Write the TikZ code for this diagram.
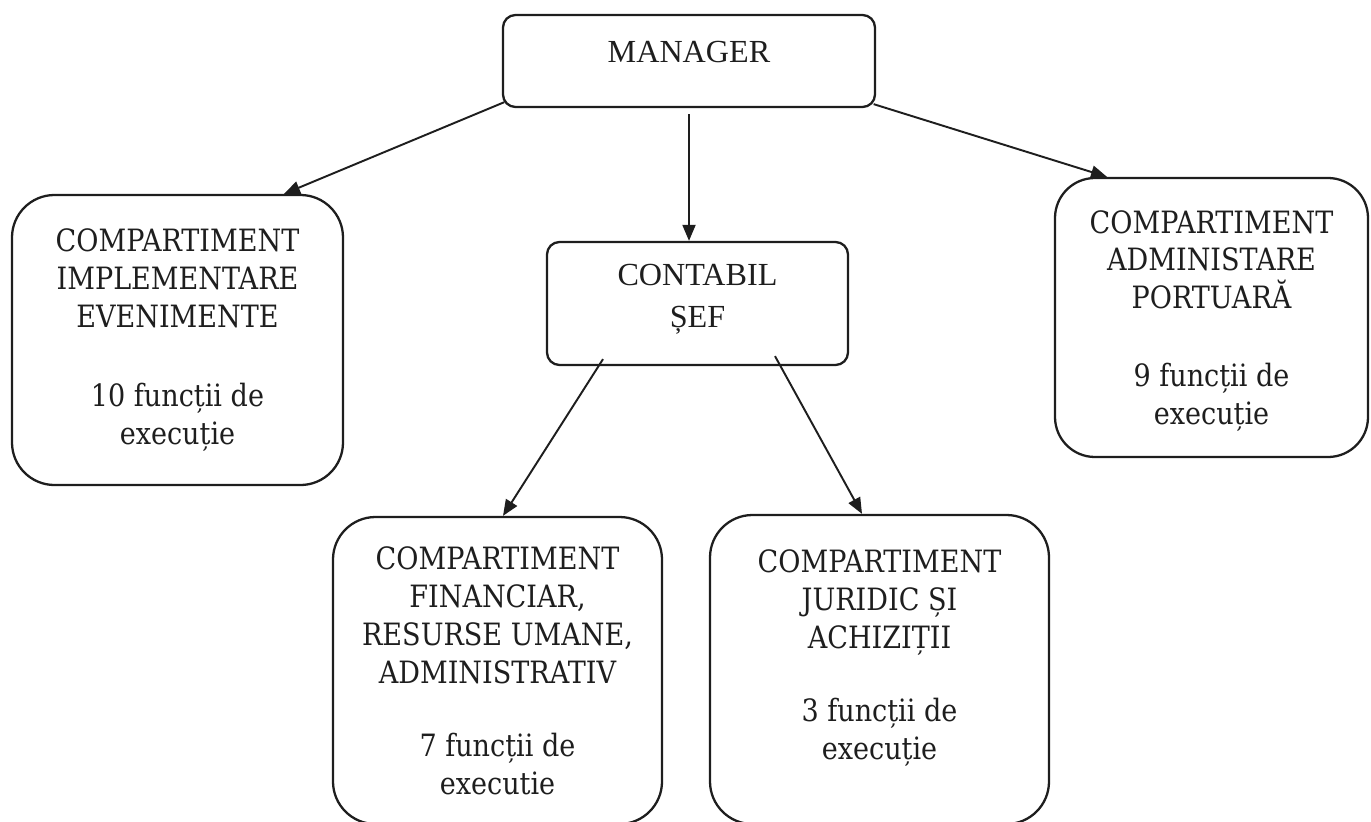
\documentclass[tikz,border=0pt]{standalone}
\usepackage{fontspec}
\setmainfont{Liberation Serif}
\newfontfamily\boxfont[FakeStretch=0.88]{DejaVu Serif}
\usepackage{tikz}
\usetikzlibrary{arrows.meta}
\definecolor{ink}{HTML}{1E1E1E}
\tikzset{
  head/.style={draw=ink, line width=1.3pt, rounded corners=0.25cm, align=center,
    inner sep=0pt, text=ink, font=\fontsize{18.3}{24}\selectfont},
  comp/.style={draw=ink, line width=1.3pt, rounded corners=0.85cm, align=center,
    inner sep=0pt, text=ink, font=\boxfont\fontsize{17.5}{21.6}\selectfont},
  arr/.style={draw=ink, line width=1.1pt, -{Triangle[length=3.2mm,width=2.6mm]}},
}

\begin{document}
\begin{tikzpicture}
  \useasboundingbox (0,0) rectangle (27.42,-16.42);

  % top of the chart
  \node[head, minimum width=7.44cm, minimum height=1.84cm, text depth=0.36cm]
    (mgr) at (13.78,-1.22) {MANAGER};
  \node[head, minimum width=6.02cm, minimum height=2.46cm, text depth=0.3cm]
    (sef) at (13.95,-6.07) {CONTABIL\\ȘEF};

  % compartments
  \node[comp, minimum width=6.62cm, minimum height=5.8cm] (impl) at (3.55,-6.8)
    {COMPARTIMENT\\IMPLEMENTARE\\EVENIMENTE\\[0.82cm]10 funcții de\\execuție};
  \node[comp, minimum width=6.26cm, minimum height=5.58cm, rounded corners=0.8cm,
    text depth=0cm] (port) at (24.23,-6.35)
    {COMPARTIMENT\\ADMINISTARE\\PORTUARĂ\\[0.8cm]9 funcții de\\execuție};
  \node[comp, minimum width=6.58cm, minimum height=6.14cm] (fin) at (9.95,-13.41)
    {COMPARTIMENT\\FINANCIAR,\\RESURSE UMANE,\\ADMINISTRATIV\\[0.7cm]7 funcții de\\executie};
  \node[comp, minimum width=6.78cm, minimum height=6.18cm, text depth=0.6cm]
    (jur) at (17.59,-13.39)
    {COMPARTIMENT\\JURIDIC ȘI\\ACHIZIȚII\\[0.7cm]3 funcții de\\execuție};

  % arrows
  \draw[arr] ([shift={(0.05,0.12)}]mgr.south west) -- ([xshift=2.13cm]impl.north);
  \draw[arr] ([yshift=-0.12cm]mgr.south) -- ([xshift=-0.17cm]sef.north);
  \draw[arr] ([shift={(-0.05,0.08)}]mgr.south east) -- ([xshift=-2.09cm]port.north);
  \draw[arr] ([shift={(-1.89cm,0.14cm)}]sef.south) -- ([xshift=0.11cm]fin.north);
  \draw[arr] ([shift={(1.55cm,0.2cm)}]sef.south) -- ([xshift=-0.35cm]jur.north);
\end{tikzpicture}
\end{document}
